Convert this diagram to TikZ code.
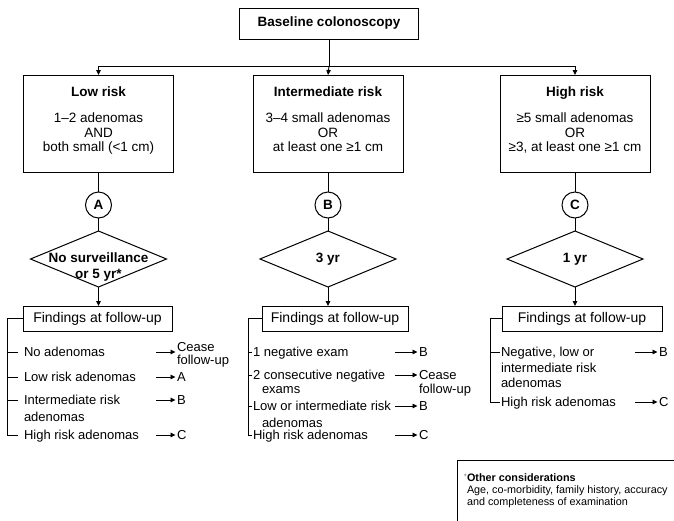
\documentclass[tikz,border=0pt]{standalone}
\usepackage{fontspec}
\setmainfont{Liberation Sans}
\usetikzlibrary{shapes.geometric,arrows.meta}
\tikzset{
  base/.style={inner sep=0pt,outer sep=0pt},
  frame/.style={base,draw,line width=1pt},
  topbox/.style={frame,minimum width=179pt,minimum height=31pt,font=\fontsize{13.5}{16}\selectfont\bfseries},
  riskbox/.style={frame,minimum width=150pt,minimum height=97pt},
  title/.style={base,anchor=north,font=\fontsize{13.5}{16}\selectfont\bfseries},
  crit/.style={base,anchor=north,align=center,font=\fontsize{13.5}{14.5}\selectfont},
  letter/.style={frame,circle,minimum size=26pt,font=\fontsize{13.5}{15}\selectfont\bfseries},
  decide/.style={frame,diamond,minimum width=136pt,minimum height=56pt},
  decidetext/.style={base,align=center,font=\fontsize{13.5}{16}\selectfont\bfseries},
  findbox/.style={frame,minimum height=25pt,font=\fontsize{14}{16}\selectfont},
  item/.style={base,anchor=north west,align=left,font=\fontsize{13}{16}\selectfont},
  dest/.style={base,anchor=north west,align=left,font=\fontsize{13}{13.5}\selectfont},
  note/.style={base,anchor=north west,align=left,font=\fontsize{10.8}{12}\selectfont},
  link/.style={line width=0.9pt},
  arr/.style={line width=0.9pt,-{Triangle[length=5pt,width=4.5pt]}},
}
\begin{document}
\begin{tikzpicture}[x=1pt,y=-1pt]
\useasboundingbox (0,0) rectangle (674,520);

% top of the tree
\node[topbox] (base) at (329,23.5) {Baseline colonoscopy};

% risk groups
\node[riskbox] (low)  at (98.5,123.5) {};
\node[riskbox] (mid)  at (328,123.5) {};
\node[riskbox] (high) at (575,123.5) {};
\node[title] (lowT)  at (98.5,87.1) {Low risk};
\node[title] (midT)  at (328,87.1) {Intermediate risk};
\node[title] (highT) at (575,87.1) {High risk};
\node[crit] (lowC)  at (98.5,113.1) {1–2 adenomas\\AND\\both small (<1 cm)};
\node[crit] (midC)  at (328,113.1) {3–4 small adenomas\\OR\\at least one ≥1 cm};
\node[crit] (highC) at (575,113.1) {≥5 small adenomas\\OR\\≥3, at least one ≥1 cm};

\coordinate (split) at (329,66);
\draw[link] (base.south) -- (split);
\draw[arr] (split) -| (low.north);
\draw[arr] (split) -- (mid.north);
\draw[arr] (split) -| (high.north);

% pathway labels
\node[letter] (cA) at (98.5,205) {A};
\node[letter] (cB) at (328,205) {B};
\node[letter] (cC) at (575,205) {C};

% surveillance intervals
\node[decide] (dA) at (98.5,259) {};
\node[decide] (dB) at (328,259) {};
\node[decide] (dC) at (575,259) {};
\node[decidetext,anchor=north] (dAt) at (98.5,253.1) {No surveillance\\or 5 yr*};
\node[decidetext] (dBt) at (328,259) {3 yr};
\node[decidetext] (dCt) at (575,259) {1 yr};

\foreach \r/\c/\d in {low/cA/dA, mid/cB/dB, high/cC/dC}{
  \draw[link] (\r.south) -- (\c.north);
  \draw[link] (\c.south) -- (\d.north);
}

% follow-up findings
\node[findbox,minimum width=149pt] (fL) at (97.5,318.5) {Findings at follow-up};
\node[findbox,minimum width=146pt] (fM) at (335,318.5) {Findings at follow-up};
\node[findbox,minimum width=160pt] (fR) at (582,318.5) {Findings at follow-up};
\draw[arr] (dA.south) -- (dA.south |- fL.north);
\draw[arr] (dB.south) -- (dB.south |- fM.north);
\draw[arr] (dC.south) -- (dC.south |- fR.north);

% low risk outcomes
\node[item] (iL1) at (24,347.1) {No adenomas};
\node[item] (iL2) at (24,372.1) {Low risk adenomas};
\node[item,font=\fontsize{13}{17}\selectfont] (iL3) at (24,395.1) {Intermediate risk\\adenomas};
\node[item] (iL4) at (24,430.1) {High risk adenomas};
\node[dest] (dL1) at (177,342.1) {Cease\\follow-up};
\node[dest] (dL2) at (177,372.1) {A};
\node[dest] (dL3) at (177,395.1) {B};
\node[dest] (dL4) at (177,430.1) {C};
\coordinate (bL) at (7,435);
\draw[link] (fL.west) -| (bL) -- ++(11,0);
\foreach \i in {iL1,iL2,iL3}{
  \draw[link] ([xshift=-6pt,yshift=-4.9pt]\i.north west) -- ++(-11,0);
}
\coordinate (aL1) at (156,352);
\coordinate (aL2) at (156,377);
\coordinate (aL3) at (156,400);
\coordinate (aL4) at (156,435);
\foreach \a/\d in {aL1/dL1,aL2/dL2,aL3/dL3,aL4/dL4}{
  \draw[arr,shorten >=1.5pt] (\a) -- (\a -| \d.west);
}

% intermediate risk outcomes
\node[item] (iM1) at (253,347.1) {1 negative exam};
\node[item,font=\fontsize{13}{14}\selectfont] (iM2) at (253,370.1) {2 consecutive negative\\\hspace*{9pt}exams};
\node[item,font=\fontsize{13}{17}\selectfont] (iM3) at (253,401.1) {Low or intermediate risk\\\hspace*{9pt}adenomas};
\node[item] (iM4) at (253,430.1) {High risk adenomas};
\node[dest] (dM1) at (419,347.1) {B};
\node[dest,font=\fontsize{13}{14}\selectfont] (dM2) at (419,370.1) {Cease\\follow-up};
\node[dest] (dM3) at (419,401.1) {B};
\node[dest] (dM4) at (419,430.1) {C};
\coordinate (bM) at (248,435);
\draw[link] (fM.west) -| (bM) -- ++(4,0);
\foreach \i in {iM1,iM2,iM3}{
  \draw[link] ([xshift=-1pt,yshift=-4.9pt]\i.north west) -- ++(-4,0);
}
\coordinate (aM1) at (395,352);
\coordinate (aM2) at (395,375);
\coordinate (aM3) at (395,406);
\coordinate (aM4) at (395,435);
\foreach \a/\d in {aM1/dM1,aM2/dM2,aM3/dM3,aM4/dM4}{
  \draw[arr,shorten >=1.5pt] (\a) -- (\a -| \d.west);
}

% high risk outcomes
\node[item,font=\fontsize{13}{15.5}\selectfont] (iR1) at (501,347.1) {Negative, low or\\intermediate risk\\adenomas};
\node[item] (iR2) at (501,397.1) {High risk adenomas};
\node[dest] (dR1) at (659,347.1) {B};
\node[dest] (dR2) at (659,397.1) {C};
\coordinate (bR) at (490,402);
\draw[link] (fR.west) -| (bR) -- ++(10,0);
\draw[link] ([xshift=-1pt,yshift=-4.9pt]iR1.north west) -- ++(-10,0);
\coordinate (aR1) at (635,352);
\coordinate (aR2) at (635,402);
\foreach \a/\d in {aR1/dR1,aR2/dR2}{
  \draw[arr,shorten >=1.5pt] (\a) -- (\a -| \d.west);
}

% footnote panel
\coordinate (noteTL) at (457,460);
\draw[line width=1pt] (457,521) -- (noteTL) -- (675,460);
\node[note] (noteT) at (467,474) {\llap{\textcolor{gray}{\fontsize{8}{8}\selectfont\raisebox{2pt}{*}}}\textbf{Other considerations}\\Age, co-morbidity, family history, accuracy\\and completeness of examination};
\end{tikzpicture}
\end{document}
